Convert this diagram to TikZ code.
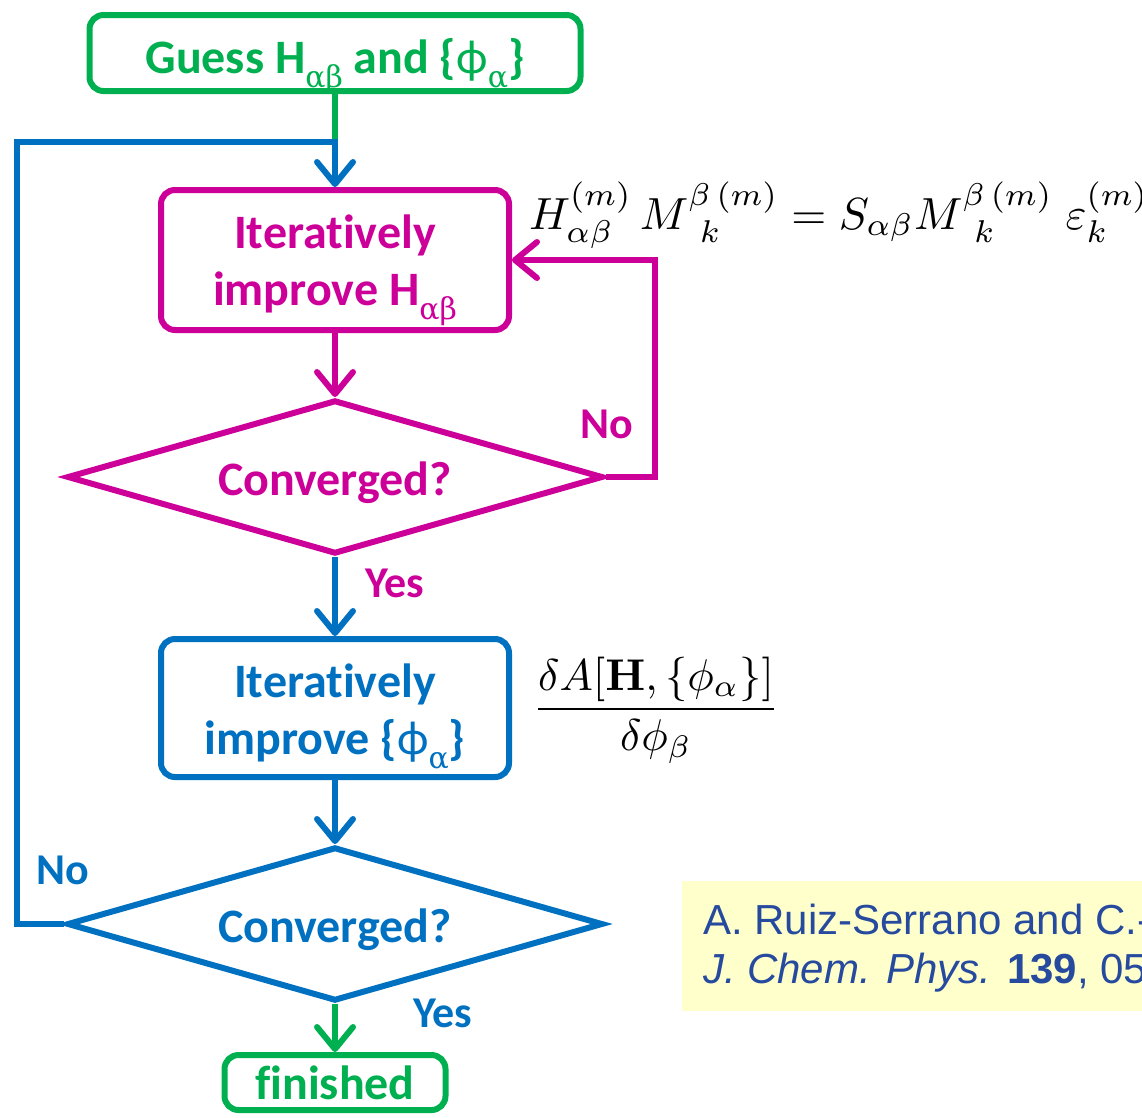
\documentclass[tikz,border=0pt]{standalone}
\usepackage{graphicx}
\usepackage[no-math]{fontspec}
\setmainfont{Carlito}[Ligatures=NoCommon]
\newfontfamily\grk{DejaVu Serif}
\newfontfamily\arialf{Liberation Sans}
\usetikzlibrary{arrows.meta,shapes.geometric}
\definecolor{cgreen}{RGB}{0,176,80}
\definecolor{cmag}{RGB}{204,0,153}
\definecolor{cblue}{RGB}{0,112,192}
\definecolor{ccite}{RGB}{38,74,158}
\definecolor{cyel}{RGB}{255,255,204}
\newcommand\gsb[1]{\raisebox{-0.3em}[0pt][0pt]{\fontsize{30}{30}\selectfont\mdseries\grk #1}}
\newcommand\phisym{{\mdseries ϕ}}
% text placed with its first baseline at a given offset from the node centre
\newcommand\ctext[2]{\raisebox{#1}[0pt][0pt]{\begin{tabular}[t]{@{}c@{}}#2\end{tabular}}}
\begin{document}
\begin{tikzpicture}[x=1pt,y=-1pt,line width=6pt,
  flow/.style={draw, rounded corners=14pt, inner sep=0pt,
    font=\fontsize{48}{57}\selectfont\bfseries},
  dec/.style={draw, diamond, aspect=3.48, minimum width=536pt, minimum height=154pt,
    inner sep=0pt, font=\fontsize{48}{57}\selectfont\bfseries},
  lbl/.style={font=\fontsize{44}{50}\selectfont\bfseries},
  arr/.style={-{Straight Barb[length=22pt,width=36pt,round]}},
  mth/.style={inner sep=0pt},
  cite/.style={inner sep=0pt, anchor=base west, text=ccite, font=\arialf\fontsize{42}{48}\selectfont}]
\useasboundingbox (0,0) rectangle (1142,1117);
% citation box
\node[fill=cyel, draw=none, anchor=north west, minimum width=480pt, minimum height=130pt, inner sep=0pt] (citebox) at (679,878) {};
\node[cite] (cite1) at (700,934) {A. Ruiz-Serrano and C.-K. Skylaris,};
\node[cite] (cite2) at (700,983) {\textit{J. Chem. Phys.} \textbf{139}, 054107 (2013)};
% nodes
\node[flow, cgreen, minimum width=491pt, minimum height=76pt] (guess) at (335,53)
  {\ctext{-20pt}{Guess H\gsb{αβ} and \{\phisym\gsb{α}\}}};
\node[flow, cmag, minimum width=348pt, minimum height=140pt] (imp1) at (335,260)
  {\ctext{12pt}{Iteratively\\improve H\gsb{αβ}}};
\node[dec, cmag] (conv1) at (335,477) {\ctext{-18pt}{Converged?}};
\node[flow, cblue, minimum width=348pt, minimum height=138pt] (imp2) at (335,708)
  {\ctext{11pt}{Iteratively\\improve \{\phisym\gsb{α}\}}};
\node[dec, cblue] (conv2) at (335,924) {\ctext{-18pt}{Converged?}};
\node[flow, cgreen, minimum width=221pt, minimum height=55pt] (fin) at (335,1082.5)
  {\ctext{-17pt}{finished}};
% labels
\node[lbl, cmag] (no1) at (607,424) {No};
\node[lbl, cmag] (yes1) at (395,583) {Yes};
\node[lbl, cblue] (no2) at (63,870) {No};
\node[lbl, cblue] (yes2) at (443,1013) {Yes};
% formulas
\node[mth, anchor=base west] (eq) at (526,229)
  {\scalebox{4.5}{$H^{(m)}_{\alpha\beta}\,M^{\beta\,(m)}_{\;\,k} = S_{\alpha\beta}M^{\beta\,(m)}_{\;\,k}\;\varepsilon^{(m)}_{k}$}};
\node[mth] (frac) at (656,710)
  {\scalebox{4.45}{$\displaystyle\frac{\delta A[\mathbf{H},\{\phi_\alpha\}]}{\delta\phi_\beta}$}};
% connectors
\coordinate (jn) at (335,142);
\coordinate (lc) at (17,142);
\coordinate (rc) at (655,260);
\draw[cgreen] (guess.south) -- (jn);
\draw[cblue, arr] (conv2.west) -| (lc) -- (jn) -- (imp1.north);
\draw[cmag, arr] (imp1.south) -- (conv1.north);
\draw[cmag, arr] (conv1.east) -| (rc) -- (imp1.east);
\draw[cblue, arr] (conv1.south) -- (imp2.north);
\draw[cblue, arr] (imp2.south) -- (conv2.north);
\draw[cgreen, arr] (conv2.south) -- (fin.north);
\end{tikzpicture}
\end{document}
